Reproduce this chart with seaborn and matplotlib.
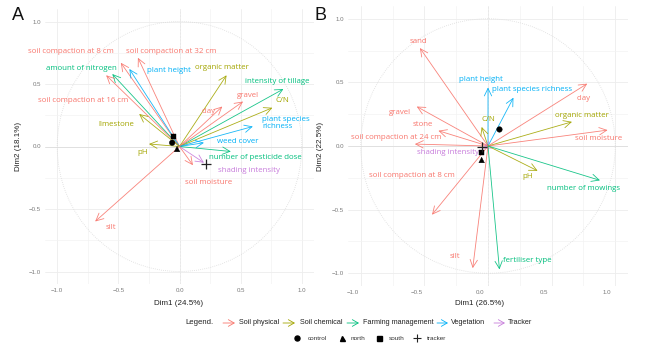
import numpy as np
import pandas as pd
import matplotlib
matplotlib.use("Agg")
import matplotlib.pyplot as plt
import matplotlib.transforms as mtransforms
from matplotlib.patches import Circle
import seaborn as sns

# ---------------- data ----------------
groups = ["Soil physical", "Soil chemical", "Farming management", "Vegetation", "Tracker"]
group_colors = ["#F8766D", "#A3A500", "#00BF7D", "#00B0F6", "#C77CDB"]

# Panel A: variable coordinates on Dim1 / Dim2
a_vars = ["soil compaction at 8 cm", "soil compaction at 32 cm", "amount of nitrogen",
          "plant height", "soil compaction at 16 cm", "limestone", "pH", "silt",
          "organic matter", "intensity of tillage", "gravel", "C/N", "clay",
          "plant species\nrichness", "weed cover", "number of pesticide dose",
          "shading intensity", "soil moisture"]
a_group = ["Soil physical", "Soil physical", "Farming management", "Vegetation",
           "Soil physical", "Soil chemical", "Soil chemical", "Soil physical",
           "Soil chemical", "Farming management", "Soil physical", "Soil chemical",
           "Soil physical", "Vegetation", "Vegetation", "Farming management",
           "Tracker", "Soil physical"]
a_dim1 = [-0.48, -0.34, -0.55, -0.41, -0.60, -0.33, -0.25, -0.69,
          0.385, 0.85, 0.52, 0.76, 0.35, 0.60, 0.20, 0.42, 0.20, 0.11]
a_dim2 = [0.67, 0.71, 0.58, 0.62, 0.57, 0.26, 0.02, -0.60,
          0.57, 0.46, 0.36, 0.31, 0.32, 0.16, 0.03, -0.04, -0.13, -0.15]

a_sites = ["control", "north", "south", "tracker"]
a_site_dim1 = [-0.06, -0.02, -0.05, 0.22]
a_site_dim2 = [0.03, -0.02, 0.08, -0.14]

# Panel B: variable coordinates on Dim1 / Dim2
b_vars = ["sand", "plant height", "plant species richness", "clay", "organic matter",
          "soil moisture", "C/N", "gravel", "stone", "soil compaction at 24 cm",
          "shading intensity", "soil compaction at 8 cm", "silt", "pH",
          "number of mowings", "fertiliser type"]
b_group = ["Soil physical", "Vegetation", "Vegetation", "Soil physical", "Soil chemical",
           "Soil physical", "Soil chemical", "Soil physical", "Soil physical",
           "Soil physical", "Tracker", "Soil physical", "Soil physical",
           "Soil chemical", "Farming management", "Farming management"]
b_dim1 = [-0.535, 0.0, 0.20, 0.78, 0.66, 0.94, -0.05, -0.56, -0.39, -0.575,
          -0.04, -0.44, -0.12, 0.39, 0.88, 0.09]
b_dim2 = [0.77, 0.46, 0.38, 0.49, 0.19, 0.125, 0.15, 0.31, 0.12, 0.015,
          -0.02, -0.54, -0.96, -0.195, -0.27, -0.97]

b_sites = ["control", "north", "south", "tracker"]
b_site_dim1 = [0.09, -0.05, -0.05, -0.05]
b_site_dim2 = [0.13, -0.11, -0.05, -0.01]

# label placement (repelled text positions)
a_label_pos = {
    "soil compaction at 8 cm": (-0.89, 0.76), "soil compaction at 32 cm": (-0.07, 0.76),
    "amount of nitrogen": (-0.80, 0.62), "plant height": (-0.09, 0.61),
    "soil compaction at 16 cm": (-0.79, 0.37), "limestone": (-0.52, 0.18),
    "pH": (-0.30, -0.05), "silt": (-0.56, -0.65), "organic matter": (0.35, 0.63),
    "intensity of tillage": (0.80, 0.52), "gravel": (0.56, 0.41), "C/N": (0.84, 0.37),
    "clay": (0.24, 0.28), "plant species\nrichness": (0.87, 0.19),
    "weed cover": (0.48, 0.04), "number of pesticide dose": (0.62, -0.09),
    "shading intensity": (0.57, -0.19), "soil moisture": (0.24, -0.29),
}
b_label_pos = {
    "sand": (-0.55, 0.82), "plant height": (-0.055, 0.52),
    "plant species richness": (0.35, 0.445), "clay": (0.75, 0.375),
    "organic matter": (0.74, 0.24), "soil moisture": (0.87, 0.06), "C/N": (0.0, 0.21),
    "gravel": (-0.69, 0.26), "stone": (-0.51, 0.17),
    "soil compaction at 24 cm": (-0.72, 0.07), "shading intensity": (-0.315, -0.055),
    "soil compaction at 8 cm": (-0.60, -0.235), "silt": (-0.26, -0.87),
    "pH": (0.315, -0.24), "number of mowings": (0.75, -0.335),
    "fertiliser type": (0.31, -0.90),
}

# ---------------- style ----------------
sns.set_theme(style="whitegrid")
plt.rcParams["font.family"] = ["Liberation Sans", "DejaVu Sans"]
plt.rcParams["axes.unicode_minus"] = True

palette = dict(zip(groups, group_colors))
W, H = 665, 348
fig = plt.figure(figsize=(W / 100, H / 100), dpi=100)


def px_axes(x0, x1, y0, y1):
    return fig.add_axes([x0 / W, 1 - y1 / H, (x1 - x0) / W, (y1 - y0) / H])


def fmt(v):
    s = f"{v:.1f}"
    return s.replace("-", "\u2212")


def draw_panel(ax, names, grp, d1, d2, label_pos, sites, s1, s2):
    ax.set_facecolor("white")
    lim = 1.1
    ax.set_xlim(-lim, lim)
    ax.set_ylim(-lim, lim)
    major = [-1.0, -0.5, 0.0, 0.5, 1.0]
    minor = [-0.75, -0.25, 0.25, 0.75]
    ax.set_xticks(major)
    ax.set_yticks(major)
    ax.set_xticks(minor, minor=True)
    ax.set_yticks(minor, minor=True)
    ax.set_xticklabels([fmt(v) for v in major])
    ax.set_yticklabels([fmt(v) for v in major])
    ax.grid(True, which="major", color="#EDEDED", lw=0.6)
    ax.grid(True, which="minor", color="#F3F3F3", lw=0.5)
    ax.tick_params(axis="both", which="both", length=0, labelsize=4.4,
                   labelcolor="#7A7A7A", pad=3)
    for sp in ax.spines.values():
        sp.set_visible(False)

    ax.axhline(0, color="#DADADA", lw=0.5, zorder=1)
    ax.axvline(0, color="#E6E6E6", lw=0.5, ls=(0, (3, 2)), zorder=1)
    ax.add_patch(Circle((0, 0), 1.0, fill=False, ls=(0, (1, 1.5)), lw=0.6,
                        color="#DCDCDC", zorder=1))

    for name, g, x, y in zip(names, grp, d1, d2):
        c = palette[g]
        ax.annotate("", xy=(x, y), xytext=(0, 0),
                    arrowprops=dict(arrowstyle="->,head_length=0.45,head_width=0.22",
                                    color=c, lw=0.6, alpha=0.9,
                                    shrinkA=0, shrinkB=0), zorder=3)
        lx, ly = label_pos[name]
        ax.text(lx, ly, name, color=c, fontsize=5.7, family=["Open Sans", "DejaVu Sans"],
                ha="center", va="center", multialignment="left",
                linespacing=1.05, zorder=4)

    df = pd.DataFrame({"Dim1": s1, "Dim2": s2, "site": sites})
    filled = df[df["site"] != "tracker"]
    sns.scatterplot(data=filled, x="Dim1", y="Dim2", style="site",
                    markers={"control": "o", "north": "^", "south": "s"},
                    color="black", edgecolor="black", s=16, linewidth=0.3,
                    legend=False, ax=ax, zorder=5)
    sns.scatterplot(data=df[df["site"] == "tracker"], x="Dim1", y="Dim2",
                    marker="+", color="#222222", s=45, linewidth=0.9,
                    legend=False, ax=ax, zorder=5)


axA = px_axes(45, 314, 9, 284)
axB = px_axes(348, 628, 6, 286)

draw_panel(axA, a_vars, a_group, a_dim1, a_dim2, a_label_pos,
           a_sites, a_site_dim1, a_site_dim2)
draw_panel(axB, b_vars, b_group, b_dim1, b_dim2, b_label_pos,
           b_sites, b_site_dim1, b_site_dim2)

title_kw = dict(fontsize=5.8, color="#222222")
axA.set_xlabel("Dim1 (24.5%)", **title_kw)
axA.set_ylabel("Dim2 (18.1%)", **title_kw)
axB.set_xlabel("Dim1 (26.5%)", **title_kw)
axB.set_ylabel("Dim2 (22.5%)", **title_kw)
axA.xaxis.set_label_coords((179 - 45) / 269, (284 - 300) / 275)
axA.yaxis.set_label_coords((22 - 45) / 269, (284 - 146) / 275)
axB.xaxis.set_label_coords((480 - 348) / 280, (286 - 300) / 280)
axB.yaxis.set_label_coords((324 - 348) / 280, (286 - 146) / 280)

# bottom tick labels of panel B sit slightly left of their grid lines
shift = mtransforms.ScaledTranslation(-8 / 100, 0, fig.dpi_scale_trans)
for lbl in axB.get_xticklabels():
    lbl.set_transform(lbl.get_transform() + shift)

# panel letters
fig.text(12 / W, 1 - 15 / H, "A", fontsize=13, va="center", ha="left", color="#111111")
fig.text(315 / W, 1 - 15 / H, "B", fontsize=13, va="center", ha="left", color="#111111")

# ---------------- legend ----------------
leg = fig.add_axes([0, 0, 1, 1])
leg.set_xlim(0, W)
leg.set_ylim(H, 0)
leg.axis("off")
leg.patch.set_alpha(0)

row1 = 323
leg.text(185, row1, "Legend.", fontsize=5.6, color="#222222", va="center", ha="left")
legend_arrows = [(223, 235, 239), (283, 295, 300), (347, 359, 363),
                 (437, 448, 451), (494, 505, 508)]
for (x0, x1, xt), g in zip(legend_arrows, groups):
    c = palette[g]
    leg.annotate("", xy=(x1, row1), xytext=(x0, row1),
                 arrowprops=dict(arrowstyle="->,head_length=0.35,head_width=0.2",
                                 color=c, lw=0.6, shrinkA=0, shrinkB=0))
    leg.text(xt, row1, g, fontsize=5.2, color="#222222", va="center", ha="left")

row2 = 338
site_keys = [("o", 297, 308, "control"), ("^", 342, 351, "north"),
             ("s", 379, 389, "south"), ("+", 417, 427, "tracker")]
for m, xm, xt, lab in site_keys:
    if m == "+":
        leg.plot([xm], [row2], marker=m, color="#222222", ms=5.5, mew=0.8, ls="none")
    else:
        leg.plot([xm], [row2], marker=m, color="black", ms=3.6, ls="none")
    leg.text(xt, row2, lab, fontsize=4.6, color="#333333", va="center", ha="left")

fig.savefig("out.png", dpi=100, facecolor="white")
